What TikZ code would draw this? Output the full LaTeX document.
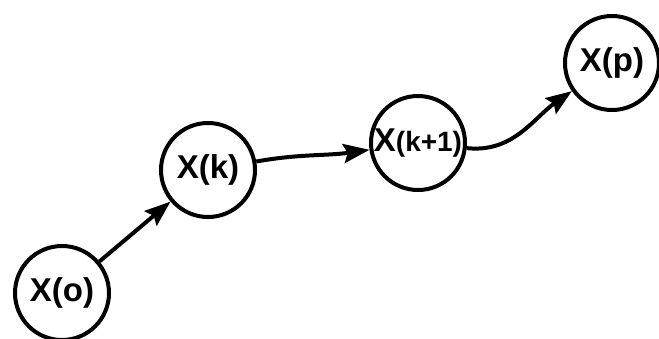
\documentclass[tikz,border=0pt]{standalone}
\usepackage{fontspec}
\setmainfont{Liberation Sans}
\usetikzlibrary{arrows.meta}
\begin{document}
\begin{tikzpicture}[x=1pt,y=-1pt,
  state/.style={circle,draw,line width=4pt,minimum size=94pt,inner sep=0pt,
    font=\fontsize{33}{35}\selectfont\bfseries},
  conn/.style={line width=4pt,-{Stealth[length=26pt,width=19pt,inset=4pt]}}]
\useasboundingbox (0,0) rectangle (659,338);
\node[state] (o) at (62,293) {X(o)};
\node[state] (k) at (208,170) {X(k)};
\node[state] (k1) at (418,143) {X{\fontsize{28}{30}\selectfont(k+1)}};
\node[state] (p) at (612,63) {X(p)};
\draw[conn] (o) -- (k);
\draw[conn] (k) to[out=10,in=188] (k1);
\draw[conn] (k1) to[out=-6,in=215] (p);
\end{tikzpicture}
\end{document}
